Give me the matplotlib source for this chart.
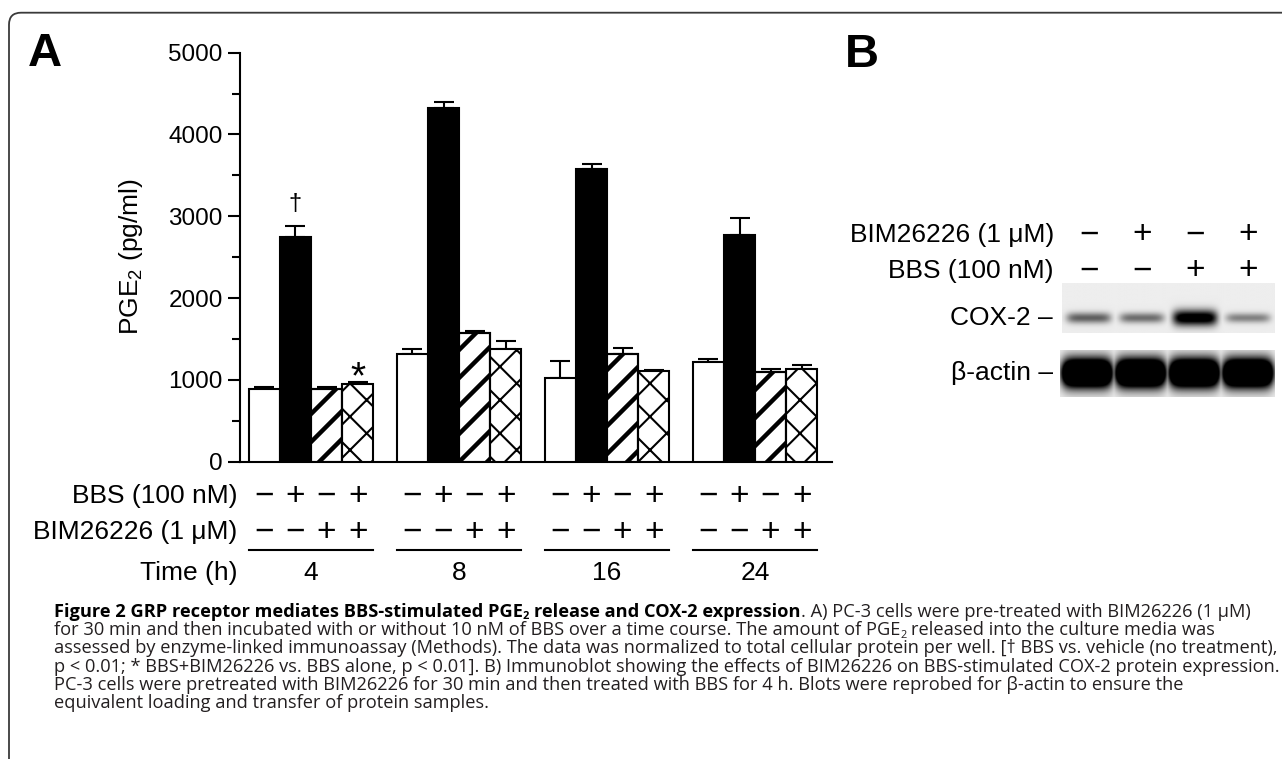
import numpy as np
import matplotlib
matplotlib.use("Agg")
import matplotlib.pyplot as plt
from matplotlib.patches import FancyBboxPatch
from matplotlib.transforms import IdentityTransform, blended_transform_factory

# ---------------- data ----------------
time_labels = ["4", "8", "16", "24"]
vehicle = [888, 1320, 1027, 1222]
vehicle_err = [25, 55, 200, 35]
bbs = [2751, 4320, 3574, 2770]
bbs_err = [130, 80, 65, 205]
bim = [888, 1577, 1312, 1093]
bim_err = [20, 25, 75, 37]
bbs_bim = [949, 1373, 1108, 1133]
bbs_bim_err = [30, 100, 12, 45]
bbs_signs = ["\u2212", "+", "\u2212", "+"]
bim_signs = ["\u2212", "\u2212", "+", "+"]
yticks = [0, 1000, 2000, 3000, 4000, 5000]

blot_bim_signs = ["\u2212", "+", "\u2212", "+"]
blot_bbs_signs = ["\u2212", "\u2212", "+", "+"]
cox2_level = [0.50, 0.45, 1.0, 0.38]
actin_level = [1.0, 1.0, 1.0, 1.0]

caption_lines = [
    [("Figure 2 GRP receptor mediates BBS-stimulated PGE", "b"), ("2", "bs"),
     (" release and COX-2 expression", "b"),
     (". A) PC-3 cells were pre-treated with BIM26226 (1 \u03bcM)", "r")],
    [("for 30 min and then incubated with or without 10 nM of BBS over a time course. The amount of PGE", "r"),
     ("2", "rs"), (" released into the culture media was", "r")],
    [("assessed by enzyme-linked immunoassay (Methods). The data was normalized to total cellular protein per well. [\u2020 BBS vs. vehicle (no treatment),", "r")],
    [("p < 0.01; * BBS+BIM26226 vs. BBS alone, p < 0.01]. B) Immunoblot showing the effects of BIM26226 on BBS-stimulated COX-2 protein expression.", "r")],
    [("PC-3 cells were pretreated with BIM26226 for 30 min and then treated with BBS for 4 h. Blots were reprobed for \u03b2-actin to ensure the", "r")],
    [("equivalent loading and transfer of protein samples.", "r")],
]

# ---------------- setup ----------------
W, H = 1282, 759
plt.rcParams["font.family"] = ["Liberation Sans", "DejaVu Sans"]
plt.rcParams["mathtext.fontset"] = "custom"
plt.rcParams["mathtext.rm"] = "Liberation Sans"
plt.rcParams["mathtext.it"] = "Liberation Sans:italic"
plt.rcParams["hatch.linewidth"] = 1.5
plt.rcParams["hatch.color"] = "black"

fig = plt.figure(figsize=(W / 100, H / 100), dpi=100)


def fx(x):
    return x / W


def fy(y):
    return 1 - y / H


# frame
frame = FancyBboxPatch((9, -200), 1600, (H - 12.7) + 200,
                       boxstyle="round,pad=0,rounding_size=12",
                       transform=IdentityTransform(), fill=False,
                       edgecolor="#3a3a3a", linewidth=1.3)
fig.add_artist(frame)

# ---------------- panel A ----------------
ax = fig.add_axes([fx(240), fy(461.7), 592 / W, 409 / H])
ax.set_xlim(-0.48, 3.52)
ax.set_ylim(0, 5000)
ax.patch.set_visible(False)
for s in ["top", "right"]:
    ax.spines[s].set_visible(False)
for s in ["left", "bottom"]:
    ax.spines[s].set_linewidth(1.5)
ax.set_xticks([])
ax.set_yticks(yticks)
ax.set_yticks(np.arange(500, 5000, 1000), minor=True)
ax.tick_params(axis="y", which="major", length=8.5, width=1.5, pad=4, labelsize=17.5)
ax.tick_params(axis="y", which="minor", length=6, width=1.5)

groups = np.arange(len(time_labels))
w = 0.21
offsets = np.array([-1.5, -0.5, 0.5, 1.5]) * w

series = [(vehicle, vehicle_err, "white", None),
          (bbs, bbs_err, "black", None),
          (bim, bim_err, "white", "stripes"),
          (bbs_bim, bbs_bim_err, "white", "x")]

for (vals, errs, face, hatch), off in zip(series, offsets):
    xs = groups + off
    ax.errorbar(xs, vals, yerr=[np.zeros(len(vals)), errs], fmt="none",
                ecolor="black", elinewidth=1.5, capsize=7.2, capthick=1.5, zorder=2)
    bars = ax.bar(xs, vals, w, color=face, edgecolor="black", linewidth=1.5,
                  hatch="x" if hatch == "x" else None, zorder=3)
    if hatch == "stripes":
        fig.canvas.draw()
        for rect in bars:
            bx, by = ax.transData.transform((rect.get_x(), 0))
            bx2, by2 = ax.transData.transform((rect.get_x() + rect.get_width(), rect.get_height()))
            spacing = 28.0
            cmin = by - bx2 - spacing
            cmax = by2 - bx + spacing
            k0 = np.floor(cmin / spacing)
            c = k0 * spacing + 6
            while c < cmax:
                ln, = ax.plot([bx - 60, bx2 + 60], [bx - 60 + c, bx2 + 60 + c],
                              transform=IdentityTransform(), color="black",
                              lw=3.2, solid_capstyle="butt", zorder=3.5)
                ln.set_clip_path(rect)
                c += spacing
        ax.bar(xs, vals, w, fill=False, edgecolor="black", linewidth=1.5, zorder=4)

# significance marks
ax.text(groups[0] + offsets[1], 3083, "\u2020", ha="center", va="baseline", fontsize=17)
ax.text(groups[0] + offsets[3], 901, "*", ha="center", va="baseline", fontsize=28)

# y label
fig.text(fx(131), fy(257), "PGE$_2$ (pg/ml)", rotation=90, ha="center", va="center", fontsize=19)

# treatment rows
trans = blended_transform_factory(ax.transData, fig.transFigure)
fig.text(fx(237), fy(496), "BBS (100 nM)", ha="right", va="center", fontsize=19)
fig.text(fx(237), fy(532), "BIM26226 (1 \u03bcM)", ha="right", va="center", fontsize=19)
fig.text(fx(237), fy(573), "Time (h)", ha="right", va="center", fontsize=19)
for g, lab in zip(groups, time_labels):
    for j, off in enumerate(offsets):
        ax.text(g + off, fy(496), bbs_signs[j], transform=trans, ha="center", va="center", fontsize=24)
        ax.text(g + off, fy(532), bim_signs[j], transform=trans, ha="center", va="center", fontsize=24)
    ax.plot([g + offsets[0] - w / 2, g + offsets[-1] + w / 2], [fy(550), fy(550)],
            transform=trans, color="black", lw=1.5, clip_on=False)
    ax.text(g, fy(573), lab, transform=trans, ha="center", va="center", fontsize=19)

# panel letters
fig.text(fx(28), fy(66), "A", fontsize=34, fontweight="bold", ha="left", va="baseline")
fig.text(fx(845), fy(67), "B", fontsize=34, fontweight="bold", ha="left", va="baseline")

# ---------------- panel B (blot) ----------------
def blot_image(levels, yc, hh_base, hh_gain, hw, gain, bg=0.07, ny=80, nx=320):
    y_rows = np.linspace(1, 0, ny)[:, None]
    xx = np.linspace(0, len(levels), nx)[None, :]
    dark = np.zeros((ny, nx))
    for i, lvl in enumerate(levels):
        u = (xx - (i + 0.5)) / hw
        v = (y_rows - yc) / (hh_base + hh_gain * lvl)
        p = lvl * np.exp(-u ** 6) * np.exp(-v ** 2)
        dark = np.maximum(dark, p)
    return bg + (1 - bg) * np.clip(dark * gain, 0, 1)


bax1 = fig.add_axes([fx(1062), fy(333), 213 / W, 50 / H])
bax1.imshow(blot_image(cox2_level, 0.30, 0.06, 0.10, 0.42, 1.2), cmap="gray_r",
            vmin=0, vmax=1, extent=[0, 4, 0, 1], aspect="auto", interpolation="bilinear")
bax1.set_xlim(0, 4)
bax1.axis("off")

bax2 = fig.add_axes([fx(1060), fy(397), 215 / W, 47 / H])
bax2.imshow(blot_image(actin_level, 0.51, 0.30, 0.0, 0.47, 2.4), cmap="gray_r",
            vmin=0, vmax=1, extent=[0, 4, 0, 1], aspect="auto", interpolation="bilinear")
bax2.set_xlim(0, 4)
bax2.axis("off")

btrans = blended_transform_factory(bax1.transData, fig.transFigure)
fig.text(fx(1054), fy(235), "BIM26226 (1 \u03bcM)", ha="right", va="center", fontsize=19)
fig.text(fx(1054), fy(271), "BBS (100 nM)", ha="right", va="center", fontsize=19)
for i in range(4):
    bax1.text(i + 0.5, fy(235), blot_bim_signs[i], transform=btrans, ha="center", va="center", fontsize=24)
    bax1.text(i + 0.5, fy(271), blot_bbs_signs[i], transform=btrans, ha="center", va="center", fontsize=24)
fig.text(fx(1053), fy(318), "COX-2 \u2013", ha="right", va="center", fontsize=19)
fig.text(fx(1053), fy(373), "\u03b2-actin \u2013", ha="right", va="center", fontsize=19)

# ---------------- caption ----------------
renderer = fig.canvas.get_renderer()
cap_family = ["Open Sans", "DejaVu Sans"]
cap_color = "#231f20"


def text_width(s, size, bold):
    t = fig.text(0, 0, s, fontsize=size, fontweight="bold" if bold else "normal", family=cap_family)
    wd = t.get_window_extent(renderer).width
    t.remove()
    return wd


def space_width(size, bold):
    return text_width("a a", size, bold) - text_width("aa", size, bold)


ref_size = 12.0
meas = text_width(caption_lines[3][0][0], ref_size, False)
cap_size = ref_size * 1223.0 / meas

x_start = 54
base0 = 616.7
lead = 18.3
for k, segs in enumerate(caption_lines):
    x = x_start
    yb = base0 + lead * k
    for text, style in segs:
        bold = "b" in style
        sub = "s" in style
        fs = cap_size * 0.6 if sub else cap_size
        sw = space_width(fs, bold)
        nlead = len(text) - len(text.lstrip(" "))
        ntrail = len(text) - len(text.rstrip(" "))
        x += nlead * sw
        core = text.strip(" ")
        t = fig.text(fx(x), fy(yb + (2.5 if sub else 0)), core, fontsize=fs,
                     fontweight="bold" if bold else "normal", family=cap_family,
                     color="black" if bold else cap_color, ha="left", va="baseline")
        x += t.get_window_extent(renderer).width + ntrail * sw

fig.savefig("out.png", dpi=100)
